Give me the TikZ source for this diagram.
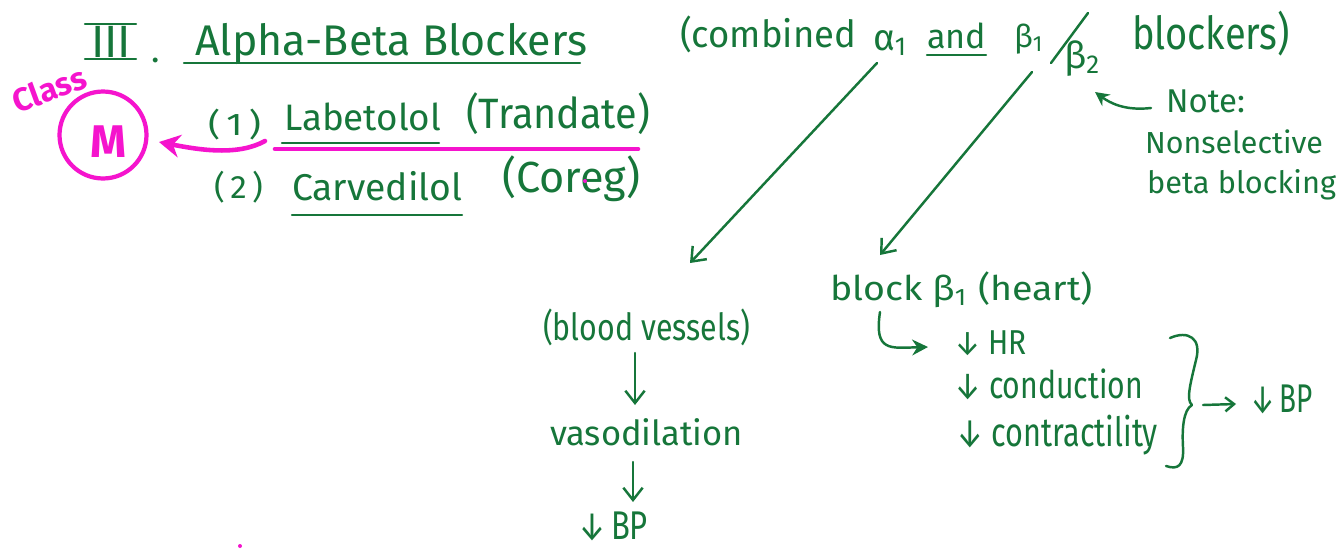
\documentclass[tikz,border=0pt]{standalone}
\usepackage{fontspec}
\setmainfont{Fira Sans}
\usetikzlibrary{arrows.meta}
\definecolor{ink}{RGB}{22,118,58}
\definecolor{hilite}{RGB}{245,20,205}
\newlength\pxu
\setlength\pxu{0.02cm}
% scale a piece of text to a given width (in drawing units)
\newcommand\fitw[2]{\resizebox{#1\pxu}{!}{#2}}
% scale a piece of text to a given width and total height
\newcommand\fitwh[3]{\resizebox*{#1\pxu}{#2\pxu}{#3}}
\newcommand\dn{↓}
\begin{document}
\begin{tikzpicture}[x=0.02cm,y=-0.02cm,
  txt/.style={anchor=base west, inner sep=0pt, outer sep=0pt, text=ink},
  pen/.style={draw=ink, line width=1.4pt, line cap=round, line join=round},
  arr/.style={pen, -{Straight Barb[length=7pt,width=11pt]}},
  marker/.style={draw=hilite, line width=2.6pt, line cap=round, line join=round}]
\fill[white] (0,0) rectangle (1338,548);
\useasboundingbox (0,0) rectangle (1338,548);

% ---- heading ----
\node[txt] (num) at (91,57) {\fitw{40}{III}};
\draw[pen] (85,24) -- (136,24);
\draw[pen] (85,59) -- (136,59);
\node[txt] (dot) at (151,62) {\fontsize{20}{24}\selectfont .};
\node[txt] (title) at (195,55) {\fitw{392}{Alpha-Beta Blockers}};
\draw[pen] (184,63) -- (580,63);

% ---- drugs ----
\node[txt] (n1) at (208,135) {\fitwh{53}{31}{(\,1\,)}};
\node[txt] (lab) at (284,130) {\fitw{157}{Labetolol}};
\node[txt] (tra) at (466,128) {\fitwh{184}{42}{(Trandate)}};
\draw[pen] (282,143) -- (439,143);
\node[txt] (n2) at (214,198) {\fitwh{49}{32}{(\,2\,)}};
\node[txt] (car) at (292,200) {\fitw{170}{Carvedilol}};
\node[txt] (cor) at (502,192) {\fitwh{138}{46}{(Coreg)}};
\draw[pen] (292,215) -- (462,215);

% ---- class M marking ----
\draw[marker] (275,149) -- (638,149);
\node[circle, draw=hilite, line width=2.4pt, minimum size=1.74cm, inner sep=0pt] (ring) at (103,135) {};
\node[anchor=center, inner sep=0pt, text=hilite] (Mlab) at (108,142) {\fitw{36}{\bfseries M}};
\node[anchor=center, inner sep=0pt, text=hilite, rotate=20] (cls) at (49,89) {\fitw{76}{\bfseries Class}};
\coordinate (mtip) at (159,142);
\coordinate (mtail) at (265,141);
\draw[marker, -{Stealth[length=12pt,width=13pt]}] (mtail) .. controls (238,156) and (200,150) .. (mtip);
\fill[hilite] (585,181) circle (2);
\fill[hilite] (240,546) circle (2);

% ---- receptor line ----
\node[txt] (comb) at (680,47) {\fitwh{176}{37}{(combined}};
\node[txt] (alpha) at (873,50) {\fitw{35}{α\textsubscript{1}}};
\node[txt] (and) at (927,48) {\fitw{59}{and}};
\draw[pen] (927,55) -- (986,55);
\node[txt] (b1) at (1014,47) {\fitw{30}{β\textsubscript{1}}};
\draw[pen] (1088,13) -- (1051,63);
\node[txt] (b2) at (1064,68) {\fitw{37}{β\textsubscript{2}}};
\node[txt] (blk) at (1132,49) {\fitwh{158}{45}{blockers)}};

% ---- note ----
\node[txt] (note) at (1166,112) {\fitw{79}{Note:}};
\node[txt] (nons) at (1145,153) {\fitw{178}{Nonselective}};
\node[txt] (bblk) at (1147,193) {\fitw{189}{beta blocking}};
\coordinate (ntail) at (1151,108);
\coordinate (ntip) at (1095,92);
\draw[pen, -{Stealth[length=8pt,width=8pt]}] (ntail) .. controls (1125,111) and (1110,103) .. (ntip);

% ---- alpha branch ----
\node[txt] (blood) at (543,340) {\fitwh{207}{37}{(blood vessels)}};
\node[txt] (vaso) at (550,445) {\fitw{193}{vasodilation}};
\node[txt] (bpa) at (578,539) {\fitwh{70}{29}{\dn\,BP}};
\coordinate (a1) at (877,63);
\coordinate (a2) at (690,263);
\draw[arr] (a1) -- (a2);
\coordinate (v1) at (635,353);
\coordinate (v2) at (635,405);
\draw[arr] (v1) -- (v2);
\coordinate (w1) at (633,462);
\coordinate (w2) at (633,502);
\draw[arr] (w1) -- (w2);

% ---- beta branch ----
\node[txt] (block) at (830,300) {\fitwh{263}{36}{block β\textsubscript{1} (heart)}};
\node[txt] (hr) at (954,354) {\fitwh{73}{25}{\dn\ HR}};
\node[txt] (cond) at (954,398) {\fitwh{189}{31}{\dn\ conduction}};
\node[txt] (contr) at (956,446) {\fitwh{202}{40}{\dn\ contractility}};
\node[txt] (bpb) at (1250,412) {\fitwh{63}{29}{\dn\,BP}};
\coordinate (b1s) at (1032,72);
\coordinate (b1e) at (880,255);
\draw[arr] (b1s) -- (b1e);
\coordinate (h1) at (880,312);
\coordinate (h2) at (928,347);
\draw[pen, -{Stealth[length=9pt,width=9pt]}] (h1) .. controls (874,352) and (890,348) .. (h2);
\draw[pen] (1170,338) .. controls (1188,330) and (1202,338) .. (1196,360)
  .. controls (1190,385) and (1186,400) .. (1192,405)
  .. controls (1183,410) and (1182,430) .. (1183,447)
  .. controls (1184,466) and (1178,470) .. (1166,466);
\coordinate (r1) at (1203,405);
\coordinate (r2) at (1236,404);
\draw[pen, -{Straight Barb[length=5pt,width=8pt]}] (r1) -- (r2);
\end{tikzpicture}
\end{document}
